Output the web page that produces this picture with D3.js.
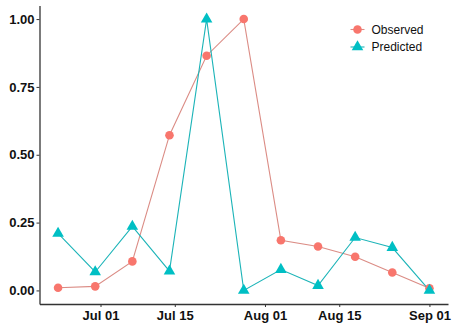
<!DOCTYPE html>
<html>
<head>
<meta charset="utf-8">
<script src="https://cdn.jsdelivr.net/npm/d3@7"></script>
<style>
  body { margin: 0; background: #fff; }
  svg { display: block; font-family: "Liberation Sans", Arial, sans-serif; }
</style>
</head>
<body>
<div id="chart"></div>
<script>
// weekly sample dates
const dates = ['2017-06-23', '2017-06-30', '2017-07-07', '2017-07-14', '2017-07-21', '2017-07-28',
               '2017-08-04', '2017-08-11', '2017-08-18', '2017-08-25', '2017-09-01']
const observed = [0.01, 0.015, 0.107, 0.572, 0.865, 1.0, 0.185, 0.162, 0.124, 0.066, 0.008]
const predicted = [0.21, 0.068, 0.236, 0.071, 1.0, 0.0, 0.077, 0.018, 0.195, 0.158, 0.0]
const seriesNames = ['Observed', 'Predicted']
const xTicks = ['2017-07-01', '2017-07-15', '2017-08-01', '2017-08-15', '2017-09-01']
const yTicks = [0, 0.25, 0.5, 0.75, 1]

const width = 454
const height = 326
const parse = d3.timeParse('%Y-%m-%d')

const svg = d3.select('#chart').append('svg')
    .attr('width', width)
    .attr('height', height)

const x = d3.scaleTime()
    .domain([new Date(2017, 5, 19, 12), new Date(2017, 8, 4, 12)])
    .range([39.5, 448])

const y = d3.scaleLinear()
    .domain([-0.05, 1.05])
    .range([304, 5.5])

const colors = {
    Observed: { pt: '#F8766D', line: '#db8c85' },
    Predicted: { pt: '#00BFC4', line: '#1cb4b8' }
}

// axes
const xAxis = d3.axisBottom(x)
    .tickValues(xTicks.map(parse))
    .tickFormat(d3.timeFormat('%b %d'))
    .tickSize(3)
    .tickSizeOuter(0)

const yAxis = d3.axisLeft(y)
    .tickValues(yTicks)
    .tickFormat(d3.format('.2f'))
    .tickSize(3)
    .tickSizeOuter(0)

const gx = svg.append('g')
    .attr('transform', `translate(0, ${y.range()[0]})`)
    .call(xAxis)

const gy = svg.append('g')
    .attr('transform', `translate(${x.range()[0]}, 0)`)
    .call(yAxis)

;[gx, gy].forEach(g => {
    g.select('.domain').attr('stroke', '#333').attr('stroke-width', 1.3)
    g.selectAll('.tick line').attr('stroke', '#333').attr('stroke-width', 1)
    g.selectAll('.tick text')
        .attr('fill', '#111')
        .style('font-size', '13px')
        .style('font-weight', 'bold')
        .style('font-family', '"Liberation Sans", Arial, sans-serif')
})
gx.selectAll('.tick text').attr('dy', '0.8em')
gy.selectAll('.tick text').attr('x', -5)

const seriesData = [
    { name: 'Observed', values: observed },
    { name: 'Predicted', values: predicted }
]

const line = d3.line()
    .x(d => x(d.date))
    .y(d => y(d.v))

const plot = svg.append('g')

seriesData.forEach(s => {
    const pts = s.values.map((v, i) => ({ date: parse(dates[i]), v: v }))
    s.pts = pts
    plot.append('path')
        .datum(pts)
        .attr('fill', 'none')
        .attr('stroke', colors[s.name].line)
        .attr('stroke-width', 1.1)
        .attr('d', line)
})

const triangle = d3.symbol().type(d3.symbolTriangle).size(58)

seriesData.forEach(s => {
    if (s.name === 'Observed') {
        plot.selectAll('circle.obs')
            .data(s.pts)
            .enter()
            .append('circle')
            .attr('class', 'obs')
            .attr('cx', d => x(d.date))
            .attr('cy', d => y(d.v))
            .attr('r', 4.3)
            .attr('fill', colors.Observed.pt)
    } else {
        plot.selectAll('path.pred')
            .data(s.pts)
            .enter()
            .append('path')
            .attr('class', 'pred')
            .attr('d', triangle)
            .attr('transform', d => `translate(${x(d.date)}, ${y(d.v)})`)
            .attr('fill', colors.Predicted.pt)
    }
})

// legend
const legend = svg.append('g')
    .attr('transform', 'translate(357.5, 29.5)')

seriesNames.forEach((name, i) => {
    const g = legend.append('g').attr('transform', `translate(0, ${i * 17.5})`)
    g.append('line')
        .attr('x1', -7).attr('x2', 7)
        .attr('stroke', colors[name].line)
        .attr('stroke-width', 1.1)
    if (name === 'Observed') {
        g.append('circle').attr('r', 4.3).attr('fill', colors[name].pt)
    } else {
        g.append('path').attr('d', triangle).attr('fill', colors[name].pt)
    }
    g.append('text')
        .attr('x', 14)
        .attr('dy', '0.36em')
        .style('font-size', '12px')
        .attr('fill', '#111')
        .text(name)
})
</script>
</body>
</html>
